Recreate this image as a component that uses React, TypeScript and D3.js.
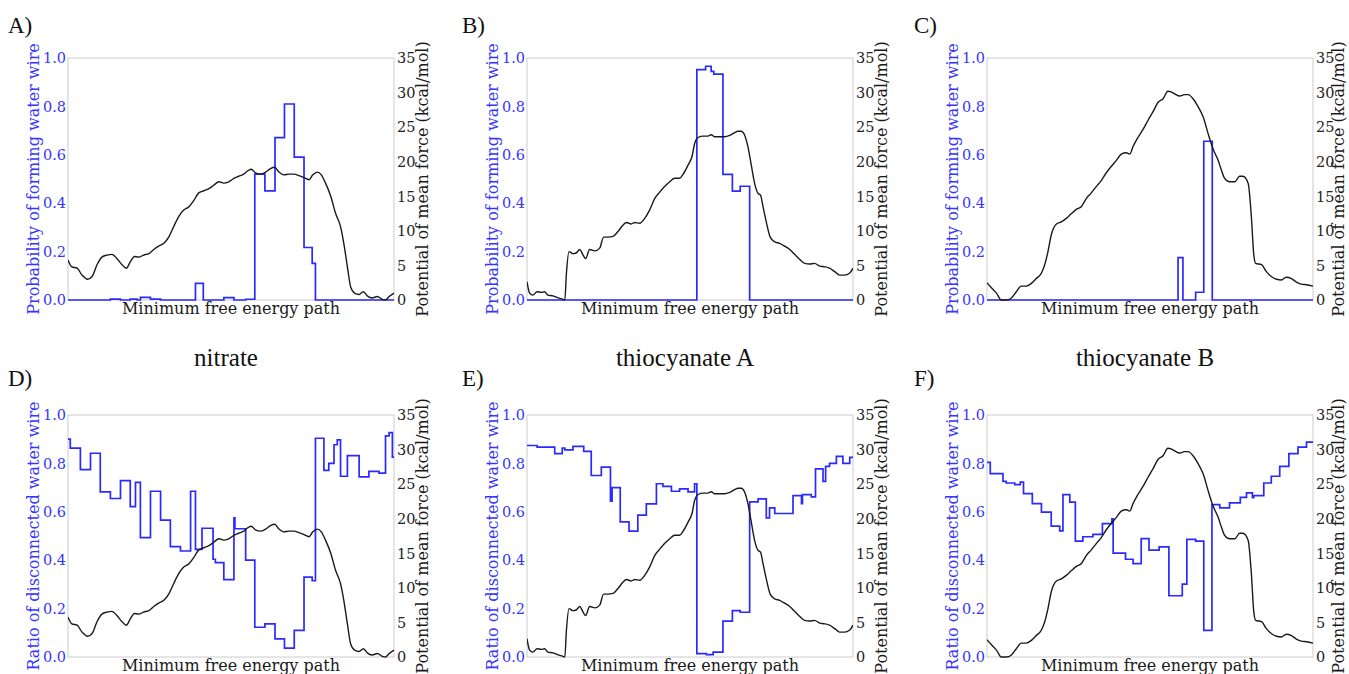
import React from "react";
import * as d3 from "d3";

// ---------- PMF curves (x = % along minimum free energy path, y = kcal/mol) ----------
const pmfNitrateX = [0, 1.2, 2.8, 4.3, 6.0, 7.4, 8.9, 10.4, 12.0, 13.5, 15.0, 16.6, 17.9, 19.1, 20.4, 21.7, 23.2, 24.8, 26.3, 27.8, 29.4, 30.9, 32.4, 34.0, 35.5, 37.1, 38.6, 40.1, 41.7, 43.2, 44.7, 46.3, 47.8, 49.3, 50.9, 52.4, 53.9, 55.2, 56.2, 57.5, 59.1, 60.6, 62.1, 63.4, 64.7, 66.2, 67.8, 69.3, 70.8, 72.4, 73.9, 75.1, 76.5, 77.7, 79.0, 80.6, 82.1, 83.6, 84.6, 85.7, 86.7, 87.9, 89.3, 90.6, 91.8, 93.3, 94.9, 96.4, 97.4, 98.5, 100];
const pmfNitrateY = [5.8, 4.8, 4.6, 3.6, 3.0, 3.4, 5.1, 6.2, 6.5, 6.6, 6.0, 5.1, 4.6, 5.5, 6.3, 6.2, 6.5, 6.7, 7.3, 7.8, 8.2, 9.1, 10.6, 12.1, 13.0, 13.5, 14.4, 15.5, 15.8, 16.1, 16.6, 17.1, 16.9, 17.1, 17.6, 17.9, 18.2, 18.7, 18.9, 18.4, 18.2, 18.5, 19.0, 19.2, 18.5, 18.1, 18.2, 18.2, 18.0, 17.7, 17.4, 18.1, 18.5, 18.1, 16.9, 15.0, 12.5, 10.6, 8.2, 4.8, 1.9, 1.0, 0.8, 1.2, 0.6, 0.3, 0.5, 0.1, 0.0, 0.5, 1.0];

const pmfThioAX = [0, 0.8, 1.8, 3.1, 4.4, 5.4, 6.4, 8.0, 9.5, 11.0, 11.6, 12.1, 12.9, 14.1, 15.1, 16.2, 17.2, 18.0, 19.2, 20.8, 22.3, 23.5, 24.8, 26.4, 27.9, 29.4, 30.5, 32.0, 33.0, 34.6, 36.1, 37.6, 39.2, 40.7, 42.2, 43.8, 45.3, 46.8, 47.9, 49.4, 50.7, 51.4, 52.5, 54.0, 55.5, 56.5, 57.6, 59.1, 60.6, 62.2, 63.7, 64.7, 65.7, 66.8, 67.8, 68.8, 69.8, 70.9, 71.6, 72.4, 73.4, 74.6, 76.0, 77.5, 79.0, 80.6, 82.1, 83.6, 85.2, 86.7, 88.2, 89.8, 91.3, 92.8, 94.4, 95.9, 97.4, 99.0, 100];
const pmfThioAY = [2.65, 1.0, 0.7, 1.2, 1.1, 1.2, 0.7, 0.6, 0.3, 0.1, 0.0, 3.9, 7.0, 6.7, 6.8, 7.3, 6.5, 6.0, 7.3, 7.1, 7.5, 9.1, 9.1, 9.2, 9.9, 10.8, 11.2, 11.0, 11.2, 11.1, 11.8, 13.0, 14.7, 15.6, 16.4, 17.1, 17.6, 17.6, 18.2, 19.5, 20.9, 22.6, 23.5, 23.7, 23.7, 23.9, 23.6, 23.6, 23.6, 23.8, 24.2, 24.4, 24.4, 23.8, 22.1, 19.5, 16.9, 15.4, 15.2, 13.5, 11.3, 9.1, 8.4, 8.2, 7.8, 7.3, 6.6, 5.9, 5.3, 5.2, 5.3, 4.9, 4.8, 4.6, 4.1, 3.6, 3.6, 3.9, 4.6];

const pmfThioBX = [0, 1.3, 2.9, 4.4, 5.9, 7.5, 9.0, 10.5, 12.1, 13.6, 15.1, 16.7, 17.7, 18.7, 19.7, 21.3, 22.8, 24.3, 25.9, 27.4, 28.9, 30.5, 32.0, 33.5, 35.1, 36.6, 38.1, 39.7, 41.2, 42.7, 43.8, 44.8, 46.3, 47.9, 49.4, 50.9, 52.5, 54.0, 55.5, 56.5, 57.6, 59.1, 60.6, 61.7, 63.2, 64.7, 66.3, 67.8, 69.3, 70.9, 71.9, 72.9, 74.4, 76.0, 77.5, 78.5, 80.1, 81.1, 81.8, 82.4, 84.2, 85.7, 87.2, 88.8, 90.3, 91.8, 93.4, 94.9, 96.4, 98.0, 100];
const pmfThioBY = [2.5, 1.8, 1.0, 0.0, 0.0, 0.3, 1.2, 2.0, 2.0, 2.4, 3.1, 3.9, 5.1, 7.0, 9.4, 11.0, 11.3, 11.8, 12.5, 13.1, 13.5, 14.7, 15.5, 16.4, 17.3, 18.4, 19.3, 20.2, 21.1, 21.3, 21.1, 22.2, 23.5, 24.7, 26.0, 27.2, 28.6, 29.1, 30.2, 30.1, 29.8, 29.5, 29.7, 29.7, 29.1, 28.0, 26.5, 24.1, 21.9, 20.2, 18.8, 17.6, 17.1, 17.1, 17.9, 17.9, 16.9, 12.0, 6.7, 5.3, 5.1, 4.1, 3.4, 3.0, 2.9, 3.3, 3.1, 2.6, 2.3, 2.2, 2.0];

// ---------- step series (bin start along path, value) ----------
const probNitrateX = [0, 13.0, 16.1, 19.1, 21.2, 22.2, 25.3, 28.4, 39.1, 41.5, 47.8, 50.9, 54.5, 57.3, 60.4, 63.5, 66.4, 69.4, 72.4, 74.9, 75.9];
const probNitrateY = [0, 0.004, 0, 0.004, 0, 0.011, 0.004, 0, 0.069, 0, 0.01, 0, 0.003, 0.52, 0.451, 0.671, 0.81, 0.59, 0.217, 0.151, 0];

const probThioAX = [0, 52.1, 54.8, 56.5, 57.3, 60.1, 63.0, 65.4, 68.3];
const probThioAY = [0, 0.952, 0.966, 0.945, 0.933, 0.519, 0.45, 0.47, 0];

const probThioBX = [0, 58.6, 60.1, 64.0, 66.5, 69.1];
const probThioBY = [0, 0.175, 0, 0.032, 0.656, 0];

const ratioNitrateX = [0, 0.7, 3.8, 6.9, 9.9, 13.0, 16.1, 19.1, 20.7, 22.2, 25.3, 28.4, 31.4, 34.5, 37.6, 39.1, 41.1, 44.5, 45.2, 47.8, 50.9, 51.2, 54.5, 57.3, 60.4, 63.5, 66.4, 69.4, 72.4, 74.9, 75.9, 78.5, 80.0, 81.6, 82.6, 83.6, 85.7, 89.3, 92.3, 95.4, 97.4, 98.5, 99.5];
const ratioNitrateY = [0.90, 0.863, 0.774, 0.842, 0.682, 0.655, 0.729, 0.621, 0.722, 0.493, 0.685, 0.566, 0.456, 0.438, 0.685, 0.445, 0.532, 0.404, 0.39, 0.32, 0.575, 0.53, 0.40, 0.123, 0.137, 0.075, 0.037, 0.11, 0.33, 0.315, 0.904, 0.771, 0.80, 0.877, 0.897, 0.747, 0.832, 0.744, 0.767, 0.76, 0.914, 0.927, 0.826];

const ratioThioAX = [0, 3.1, 8.5, 10.8, 11.6, 14.1, 17.4, 19.7, 22.8, 25.6, 26.1, 28.6, 31.3, 34.0, 36.6, 39.7, 41.7, 44.3, 46.8, 49.4, 51.4, 52.1, 55.0, 57.1, 60.1, 63.0, 65.4, 68.3, 70.9, 73.4, 74.4, 76.0, 81.6, 84.2, 84.5, 87.2, 88.5, 90.8, 91.6, 92.8, 94.9, 96.9, 99.0];
const ratioThioAY = [0.874, 0.867, 0.84, 0.863, 0.856, 0.87, 0.85, 0.75, 0.785, 0.644, 0.70, 0.558, 0.52, 0.586, 0.633, 0.716, 0.705, 0.685, 0.695, 0.682, 0.716, 0.014, 0.01, 0.02, 0.148, 0.192, 0.185, 0.641, 0.653, 0.575, 0.616, 0.593, 0.667, 0.634, 0.671, 0.662, 0.777, 0.726, 0.788, 0.80, 0.829, 0.80, 0.825];

const ratioThioBX = [0, 1.0, 4.9, 5.9, 8.5, 10.2, 11.2, 13.9, 16.7, 19.7, 22.3, 23.3, 25.4, 27.1, 29.4, 32.5, 35.4, 38.3, 38.7, 42.5, 44.8, 47.3, 49.7, 52.8, 55.8, 59.9, 61.3, 64.0, 66.5, 69.0, 71.4, 74.4, 77.7, 79.6, 81.4, 81.8, 84.9, 87.2, 89.8, 92.6, 95.4, 98.0];
const ratioThioBY = [0.804, 0.758, 0.726, 0.719, 0.712, 0.723, 0.675, 0.634, 0.599, 0.541, 0.521, 0.671, 0.640, 0.479, 0.497, 0.507, 0.551, 0.571, 0.429, 0.404, 0.386, 0.489, 0.442, 0.455, 0.253, 0.301, 0.486, 0.479, 0.110, 0.630, 0.616, 0.637, 0.660, 0.678, 0.658, 0.667, 0.719, 0.747, 0.788, 0.840, 0.867, 0.888];

const leftTicks = [0, 0.2, 0.4, 0.6, 0.8, 1.0];
const rightTicks = [0, 5, 10, 15, 20, 25, 30, 35];
const letters = ["A)", "B)", "C)", "D)", "E)", "F)"];
const titles = ["nitrate", "thiocyanate A", "thiocyanate B"];
const xLabel = "Minimum free energy path";
const topLabel = "Probability of forming water wire";
const bottomLabel = "Ratio of disconnected water wire";
const rightLabel = "Potential of mean force (kcal/mol)";

const BLUE = "#2a2aff";
const BLUE_TEXT = "#3535ff";
const FONT = "'DejaVu Serif', serif";
const TITLE_FONT = "'Liberation Serif', 'Times New Roman', serif";

const plotLefts = [68, 527, 987];
const plotTops = [58, 415];
const PW = 326;
const PH = 242;
const letterXs = [8, 462, 914];
const letterYs = [33, 386];
const rightLabelOffsets = [29, 29, 26];

const pmfs = [
  { x: pmfNitrateX, y: pmfNitrateY },
  { x: pmfThioAX, y: pmfThioAY },
  { x: pmfThioBX, y: pmfThioBY },
];
const steps = [
  [
    { x: probNitrateX, y: probNitrateY },
    { x: probThioAX, y: probThioAY },
    { x: probThioBX, y: probThioBY },
  ],
  [
    { x: ratioNitrateX, y: ratioNitrateY },
    { x: ratioThioAX, y: ratioThioAY },
    { x: ratioThioBX, y: ratioThioBY },
  ],
];

function Panel({ row, col }: { row: number; col: number }) {
  const left = plotLefts[col];
  const top = plotTops[row];
  const bottom = top + PH;
  const right = left + PW;
  const x = d3.scaleLinear().domain([0, 100]).range([left, right]);
  const yL = d3.scaleLinear().domain([0, 1]).range([bottom, top]);
  const yR = d3.scaleLinear().domain([0, 35]).range([bottom, top]);

  const st = steps[row][col];
  const stepPts: [number, number][] = st.x.map((v, i) => [v, st.y[i]]);
  stepPts.push([100, st.y[st.y.length - 1]]);
  const stepPath = d3
    .line<[number, number]>()
    .x((d) => x(d[0]))
    .y((d) => yL(d[1]))
    .curve(d3.curveStepAfter)(stepPts) as string;

  const pm = pmfs[col];
  const pmPts: [number, number][] = pm.x.map((v, i) => [v, pm.y[i]]);
  const pmPath = d3
    .line<[number, number]>()
    .x((d) => x(d[0]))
    .y((d) => yR(d[1]))
    .curve(d3.curveMonotoneX)(pmPts) as string;

  const clipId = `clip-${row}-${col}`;
  const cy = (top + bottom) / 2;

  return (
    <g>
      <defs>
        <clipPath id={clipId}>
          <rect x={left} y={top - 2} width={PW} height={PH + 3} />
        </clipPath>
      </defs>
      <text x={letterXs[col]} y={letterYs[row]} fontFamily={TITLE_FONT} fontSize={23} fill="#111">
        {letters[row * 3 + col]}
      </text>
      {row === 1 && (
        <text x={(left + right) / 2 - 5} y={366} textAnchor="middle" fontFamily={TITLE_FONT} fontSize={25} fill="#111">
          {titles[col]}
        </text>
      )}
      <rect x={left} y={top} width={PW} height={PH} fill="none" stroke="#cccccc" strokeWidth={1} />
      <g clipPath={`url(#${clipId})`}>
        <path d={stepPath} fill="none" stroke={BLUE} strokeWidth={1.7} />
        <path d={pmPath} fill="none" stroke="#1a1a1a" strokeWidth={1.4} />
      </g>
      {leftTicks.map((t) => (
        <text key={"l" + t} x={left - 2} y={yL(t)} dy="0.36em" textAnchor="end" fontFamily={FONT} fontSize={14.5} fill={BLUE_TEXT}>
          {d3.format(".1f")(t)}
        </text>
      ))}
      {rightTicks.map((t) => (
        <text key={"r" + t} x={right + 3} y={yR(t)} dy="0.36em" textAnchor="start" fontFamily={FONT} fontSize={14.5} fill="#222">
          {t}
        </text>
      ))}
      <text
        transform={`translate(${left - 35},${cy}) rotate(-90)`}
        textAnchor="middle"
        dy="0.36em"
        fontFamily={FONT}
        fontSize={16}
        fill={BLUE_TEXT}
      >
        {row === 0 ? topLabel : bottomLabel}
      </text>
      <text
        transform={`translate(${right + rightLabelOffsets[col]},${cy}) rotate(-90)`}
        textAnchor="middle"
        dy="0.33em"
        fontFamily={FONT}
        fontSize={16}
        fill="#1a1a1a"
      >
        {rightLabel}
      </text>
      <text x={(left + right) / 2} y={bottom + 14} textAnchor="middle" fontFamily={FONT} fontSize={16} fill="#1a1a1a">
        {xLabel}
      </text>
    </g>
  );
}

export default function App() {
  return (
    <svg
      width={1349}
      height={674}
      style={{ position: "absolute", left: 0, top: 0, background: "#fff" }}
    >
      <rect width={1349} height={674} fill="#fff" />
      {[0, 1].map((r) => [0, 1, 2].map((c) => <Panel key={`${r}-${c}`} row={r} col={c} />))}
    </svg>
  );
}
